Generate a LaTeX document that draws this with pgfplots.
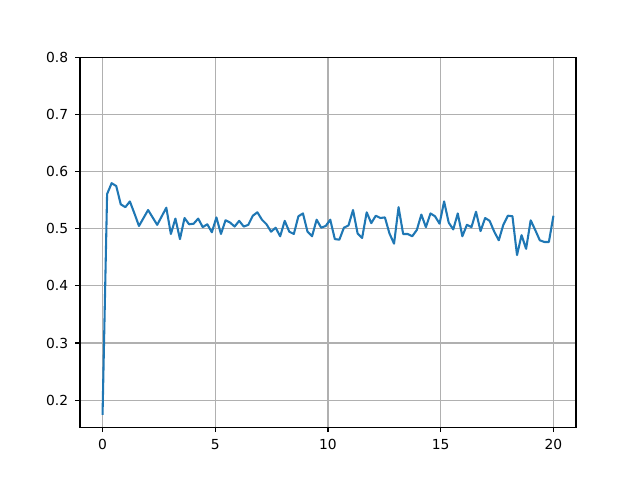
\documentclass[border=0pt]{standalone}
\usepackage{fontspec}
\setmainfont{DejaVu Sans}
\usepackage{pgfplots}
\pgfplotsset{compat=1.18}
\usepackage{pgfplotstable}
\definecolor{mplblue}{HTML}{1F77B4}
\definecolor{mplgrid}{HTML}{B0B0B0}
\pgfplotstableread{
k y
0 0.174
1 0.561
2 0.580
3 0.575
4 0.543
5 0.538
6 0.548
7 0.527
8 0.505
9 0.519
10 0.533
11 0.520
12 0.507
13 0.522
14 0.537
15 0.491
16 0.518
17 0.482
18 0.519
19 0.508
20 0.509
21 0.518
22 0.503
23 0.508
24 0.494
25 0.520
26 0.491
27 0.515
28 0.511
29 0.504
30 0.514
31 0.504
32 0.507
33 0.523
34 0.529
35 0.516
36 0.508
37 0.495
38 0.502
39 0.487
40 0.514
41 0.495
42 0.491
43 0.522
44 0.527
45 0.495
46 0.487
47 0.516
48 0.502
49 0.505
50 0.516
51 0.482
52 0.481
53 0.502
54 0.506
55 0.533
56 0.492
57 0.484
58 0.529
59 0.510
60 0.523
61 0.519
62 0.520
63 0.492
64 0.474
65 0.538
66 0.491
67 0.491
68 0.487
69 0.498
70 0.525
71 0.503
72 0.527
73 0.522
74 0.509
75 0.548
76 0.511
77 0.499
78 0.527
79 0.487
80 0.507
81 0.503
82 0.530
83 0.496
84 0.519
85 0.514
86 0.495
87 0.480
88 0.507
89 0.523
90 0.522
91 0.454
92 0.489
93 0.465
94 0.515
95 0.498
96 0.480
97 0.477
98 0.477
99 0.523
}\datatable
\begin{document}
\begin{tikzpicture}
\begin{axis}[
  at={(0,0)}, anchor=south west,
  scale only axis,
  width=4.96in, height=3.696in,
  xmin=-1, xmax=21,
  ymin=0.1525, ymax=0.8,
  xtick={0,5,10,15,20},
  ytick={0.2,0.3,0.4,0.5,0.6,0.7,0.8},
  yticklabel style={/pgf/number format/fixed, /pgf/number format/fixed zerofill, /pgf/number format/precision=1},
  /pgf/number format/assume math mode=true,
  tick label style={font=\fontsize{10}{12}\selectfont, black},
  tick pos=left,
  tick align=outside,
  major tick length=3.5pt,
  tick style={black, line width=0.8pt},
  axis line style={black, line width=0.8pt},
  grid=major,
  major grid style={mplgrid, line width=0.8pt},
  xticklabel style={yshift=-1.5pt},
  yticklabel style={xshift=-1.5pt},
]
\addplot[mplblue, line width=1.5pt, line join=round] table[x expr=\thisrow{k}*20/99, y=y] {\datatable};
\end{axis}
\useasboundingbox (-0.8in,-0.528in) rectangle (5.6in,4.272in);
\end{tikzpicture}
\end{document}
